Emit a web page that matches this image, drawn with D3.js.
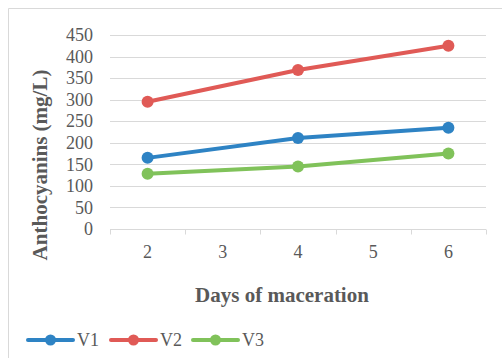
<!DOCTYPE html>
<html>
<head>
<meta charset="utf-8">
<script src="https://cdn.jsdelivr.net/npm/d3@7"></script>
<style>
  html, body { margin: 0; padding: 0; background: #fff; }
  svg { display: block; }
</style>
</head>
<body>
<svg id="chart" width="502" height="358"></svg>
<script>
// Maceration days shown on the category axis
const days = ["2", "3", "4", "5", "6"];
// Days on which samples were measured
const sampledDays = ["2", "4", "6"];
// Anthocyanin content (mg/L) per variant
const v1 = [165, 211, 235];
const v2 = [295, 369, 425];
const v3 = [128, 145, 175];
const seriesNames = ["V1", "V2", "V3"];
const yTicks = [0, 50, 100, 150, 200, 250, 300, 350, 400, 450];

const colors = { V1: "#2E83C4", V2: "#E05A56", V3: "#80C25A" };
const series = [
  { name: "V1", values: v1 },
  { name: "V2", values: v2 },
  { name: "V3", values: v3 }
];

const svg = d3.select("#chart");
const font = "'Liberation Serif', 'Times New Roman', serif";
const textColor = "#595959";
const gridColor = "#d9d9d9";

// Chart frame: only top and left edges are visible
svg.append("path")
  .attr("d", "M8.5,358 L8.5,8.5 L502,8.5")
  .attr("fill", "none")
  .attr("stroke", "#d9d9d9")
  .attr("stroke-width", 1);

const plot = { left: 110, right: 486, top: 35, bottom: 229 };

const x = d3.scaleBand().domain(days).range([plot.left, plot.right]).padding(0);
const y = d3.scaleLinear().domain([0, 450]).range([plot.bottom, plot.top]);

// Horizontal gridlines
svg.append("g")
  .selectAll("line")
  .data(yTicks.filter(t => t > 0))
  .join("line")
  .attr("x1", plot.left).attr("x2", plot.right)
  .attr("y1", d => Math.round(y(d)) + 0.5).attr("y2", d => Math.round(y(d)) + 0.5)
  .attr("stroke", gridColor).attr("stroke-width", 1);

// Y axis labels
const yAxis = svg.append("g")
  .attr("transform", `translate(${plot.left},0)`)
  .attr("font-family", font)
  .call(d3.axisLeft(y).tickValues(yTicks).tickSize(0).tickPadding(17));
yAxis.attr("font-family", font).attr("font-size", 18);
yAxis.select(".domain").remove();
yAxis.selectAll("text")
  .style("font-family", font).style("font-size", "18px").attr("fill", textColor);

// X axis: baseline with ticks between categories
const xAxisG = svg.append("g")
  .attr("transform", `translate(0,${Math.round(plot.bottom) + 0.5})`);
xAxisG.append("line")
  .attr("x1", plot.left).attr("x2", plot.right)
  .attr("stroke", gridColor).attr("stroke-width", 1);
const boundaries = days.map(d => x(d)).concat([x(days[days.length - 1]) + x.bandwidth()]);
xAxisG.selectAll("line.tick")
  .data(boundaries)
  .join("line")
  .attr("class", "tick")
  .attr("x1", d => Math.round(d) + 0.5).attr("x2", d => Math.round(d) + 0.5)
  .attr("y1", 0).attr("y2", 5)
  .attr("stroke", gridColor).attr("stroke-width", 1);
xAxisG.selectAll("text")
  .data(days)
  .join("text")
  .attr("x", d => x(d) + x.bandwidth() / 2)
  .attr("y", 28)
  .attr("text-anchor", "middle")
  .style("font-family", font).style("font-size", "18px").attr("fill", textColor)
  .text(d => d);

// Axis titles
svg.append("text")
  .attr("x", 282)
  .attr("y", 302)
  .attr("text-anchor", "middle")
  .style("font-family", font).style("font-size", "21px").style("font-weight", "bold")
  .attr("fill", textColor)
  .text("Days of maceration");

svg.append("text")
  .attr("transform", "translate(47,165) rotate(-90)")
  .attr("text-anchor", "middle")
  .style("font-family", font).style("font-size", "21px").style("font-weight", "bold")
  .attr("fill", textColor)
  .text("Anthocyanins (mg/L)");

// Series lines and markers
const cx = d => x(d) + x.bandwidth() / 2;
const line = d3.line()
  .x((v, i) => cx(sampledDays[i]))
  .y(v => y(v));

const seriesG = svg.append("g");
series.forEach(s => {
  seriesG.append("path")
    .datum(s.values)
    .attr("d", line)
    .attr("fill", "none")
    .attr("stroke", colors[s.name])
    .attr("stroke-width", 4)
    .attr("stroke-linejoin", "round")
    .attr("stroke-linecap", "round");
  seriesG.selectAll(null)
    .data(s.values)
    .join("circle")
    .attr("cx", (v, i) => cx(sampledDays[i]))
    .attr("cy", v => y(v))
    .attr("r", 6)
    .attr("fill", colors[s.name]);
});

// Legend
const legendX = [28, 111, 193];
const legendY = 340;
const legend = svg.append("g");
seriesNames.forEach((name, i) => {
  const g = legend.append("g").attr("transform", `translate(${legendX[i]},${legendY})`);
  g.append("line")
    .attr("x1", 0).attr("x2", 45).attr("y1", 0).attr("y2", 0)
    .attr("stroke", colors[name]).attr("stroke-width", 4).attr("stroke-linecap", "round");
  g.append("circle").attr("cx", 22.5).attr("cy", 0).attr("r", 5.5).attr("fill", colors[name]);
  g.append("text")
    .attr("x", 49).attr("y", 6)
    .style("font-family", font).style("font-size", "18px").attr("fill", textColor)
    .text(name);
});
</script>
</body>
</html>
